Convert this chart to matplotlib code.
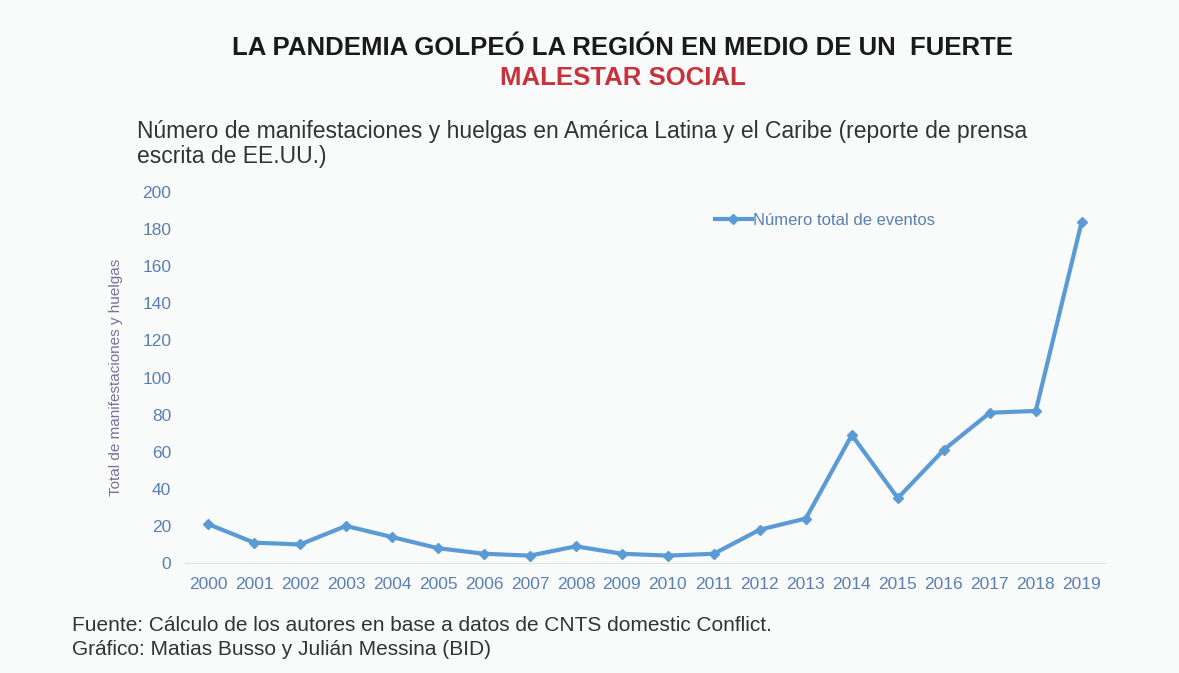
import matplotlib.pyplot as plt

plt.rcParams['font.family'] = ['Liberation Sans', 'DejaVu Sans']

years = list(range(2000, 2020))
eventos = [21, 11, 10, 20, 14, 8, 5, 4, 9, 5, 4, 5, 18, 24, 69, 35, 61, 81, 82, 184]
yticks = list(range(0, 201, 20))

line_color = '#5b9bd5'
tick_color = '#5a7fb5'

fig = plt.figure(figsize=(11.79, 6.73), dpi=100, facecolor='#f9fafa')
ax = fig.add_axes([0.157, 0.1634, 0.78, 0.5513], facecolor='#f9fafa')

ax.plot(years, eventos, color=line_color, lw=3, marker='D', ms=5,
        label='Número total de eventos')

ax.set_xlim(1999.5, 2019.5)
ax.set_ylim(0, 200)
ax.set_xticks(years)
ax.set_yticks(yticks)
ax.tick_params(axis='both', length=0, colors=tick_color, labelsize=12.5)
ax.tick_params(axis='y', pad=10)
ax.tick_params(axis='x', pad=10)
for s in ['left', 'right', 'top']:
    ax.spines[s].set_visible(False)
ax.spines['bottom'].set_color('#e3e3e3')

ax.set_ylabel('Total de manifestaciones y huelgas', color='#7a6f9a', fontsize=11, labelpad=14)

ax.legend(loc='upper left', bbox_to_anchor=(0.56, 0.985), frameon=False,
          fontsize=12, labelcolor=tick_color, handlelength=2.2, handletextpad=0.1)

fig.text(0.528, 0.928, 'LA PANDEMIA GOLPEÓ LA REGIÓN EN MEDIO DE UN  FUERTE',
         ha='center', va='center', fontsize=18.5, fontweight='bold', color='#1a1a1a')
fig.text(0.528, 0.884, 'MALESTAR SOCIAL', ha='center', va='center',
         fontsize=18.5, fontweight='bold', color='#c8323c')

fig.text(0.116, 0.786, 'Número de manifestaciones y huelgas en América Latina y el Caribe (reporte de prensa\nescrita de EE.UU.)',
         ha='left', va='center', fontsize=16.5, color='#333333', linespacing=1.15)

fig.text(0.061, 0.053, 'Fuente: Cálculo de los autores en base a datos de CNTS domestic Conflict.\nGráfico: Matias Busso y Julián Messina (BID)',
         ha='left', va='center', fontsize=15, color='#333333', linespacing=1.3)

fig.savefig('out.png', dpi=100, facecolor=fig.get_facecolor())
